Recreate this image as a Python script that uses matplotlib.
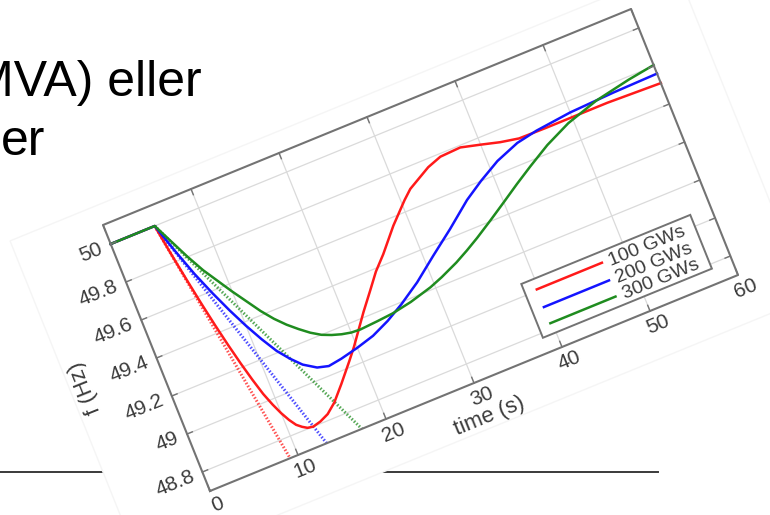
import matplotlib.pyplot as plt
import numpy as np
from matplotlib.transforms import Affine2D
from matplotlib.patches import Polygon

# frequency response after the loss (time in s, f in Hz)
t_red = [0, 5, 5.5, 6, 6.5, 7, 7.5, 8, 8.5, 9, 9.5, 10, 10.5, 11, 11.5, 12, 12.6,
         13.5, 14.5, 15.6, 16.3, 17, 18.7, 19.7, 20.7, 22, 23.5, 24.8, 26.2, 28.3,
         30.4, 31.4, 32.4, 34, 35.6, 37.9, 40, 42, 44, 47, 50, 54, 60]
f_red = [50, 50, 49.843, 49.70, 49.565, 49.44, 49.325, 49.22, 49.125, 49.04, 48.975,
         48.92, 48.875, 48.84, 48.82, 48.805, 48.80, 48.81, 48.83, 48.87, 48.905,
         48.94, 49.03, 49.085, 49.146, 49.225, 49.31, 49.385, 49.45, 49.56, 49.655,
         49.695, 49.72, 49.76, 49.785, 49.79, 49.765, 49.74, 49.722, 49.72, 49.72,
         49.72, 49.71]

t_blue = [0, 5, 6, 7, 8, 9, 10, 11, 12, 13, 14, 15.3, 16.5, 18, 20, 22, 24, 26,
          28.4, 31, 33.7, 36.5, 38.6, 41, 43.65, 46, 50, 55, 60]
f_blue = [50, 50, 49.85, 49.71, 49.59, 49.48, 49.38, 49.29, 49.21, 49.15, 49.10,
          49.06, 49.045, 49.055, 49.075, 49.10, 49.14, 49.19, 49.26, 49.35, 49.44,
          49.54, 49.60, 49.66, 49.705, 49.725, 49.745, 49.755, 49.76]

t_green = [0, 5, 6, 7, 8, 9, 10, 11, 12, 13, 14, 15, 16, 17, 18, 19, 20, 21, 22,
           23, 24.8, 27, 29.5, 31, 33, 34.5, 36, 38, 40, 42, 44, 46.5, 49.4, 53,
           57, 60]
f_green = [50, 50, 49.90, 49.80, 49.71, 49.635, 49.56, 49.49, 49.42, 49.36, 49.31,
           49.268, 49.23, 49.20, 49.18, 49.165, 49.155, 49.152, 49.155, 49.158,
           49.165, 49.183, 49.213, 49.238, 49.277, 49.312, 49.35, 49.405, 49.462,
           49.52, 49.575, 49.64, 49.70, 49.75, 49.785, 49.805]

# initial rate of change lines (dotted)
t_rocof_red = [5, 9.1]
f_rocof_red = [50, 48.7]
t_rocof_blue = [5, 13.26]
f_rocof_blue = [50, 48.7]
t_rocof_green = [5, 17.26]
f_rocof_green = [50, 48.7]

tick_t = [0, 10, 20, 30, 40, 50, 60]
tick_f = [48.8, 49, 49.2, 49.4, 49.6, 49.8, 50]
tick_f_labels = ['48.8', '49', '49.2', '49.4', '49.6', '49.8', '50']
legend_labels = ['100 GWs', '200 GWs', '300 GWs']

t_min, t_max = 0, 60
f_min, f_max = 48.7, 50.1

red, blue, green = '#ff1a1a', '#1414ff', '#1f8c1f'
axis_col = '#737373'
grid_col = '#dadada'
text_col = '#3c3c3c'
font = 'Liberation Sans'

fig = plt.figure(figsize=(7.7, 5.15), dpi=100)
ax = fig.add_axes([0, 0, 1, 1])
ax.set_xlim(0, 770)
ax.set_ylim(515, 0)
ax.axis('off')

# slide text behind the picture
ax.text(-28, 96, 'MVA) eller', fontsize=36, family=font, color='black')
ax.text(1, 155, 'er', fontsize=36, family=font, color='black')
ax.plot([0, 103], [472, 472], color='#3a3a3a', lw=1.4, zorder=1)
ax.plot([383, 658], [472, 472], color='#3a3a3a', lw=1.4, zorder=1)

# the chart is pasted tilted on the slide: (t, f) -> slide pixels
sx, sy = 8.8, -3.6       # pixels per second
hx, hy = -76.4, -190.0   # pixels per Hz
x0, y0 = 210, 491        # pixel of (0 s, 48.7 Hz)
tilt = Affine2D(np.array([[sx, hx, x0 - hx * f_min],
                          [sy, hy, y0 - hy * f_min],
                          [0, 0, 1]]))
chart = tilt + ax.transData
ang = np.degrees(np.arctan2(-sy, sx))
ang_y = np.degrees(np.arctan2(-hy, hx))

# picture background
img = Polygon([(-9.7, 48.466), (66, 48.466), (66, 50.2), (-9.7, 50.2)],
              closed=True, transform=chart, fc='white', ec='#f5f5f5', lw=1, zorder=2)
ax.add_patch(img)

# grid
for t in tick_t[1:-1]:
    ax.plot([t, t], [f_min, f_max], transform=chart, color=grid_col, lw=0.9, zorder=3)
for f in tick_f:
    ax.plot([t_min, t_max], [f, f], transform=chart, color=grid_col, lw=0.9, zorder=3)

# frame and ticks
ax.plot([t_min, t_max, t_max, t_min, t_min], [f_min, f_min, f_max, f_max, f_min],
        transform=chart, color=axis_col, lw=1.5, zorder=6)
for t in tick_t:
    ax.plot([t, t], [f_min, f_min + 0.03], transform=chart, color=axis_col, lw=1, zorder=6)
    ax.plot([t, t], [f_max, f_max - 0.03], transform=chart, color=axis_col, lw=1, zorder=6)
for f in tick_f:
    ax.plot([t_min, t_min + 0.6], [f, f], transform=chart, color=axis_col, lw=1, zorder=6)
    ax.plot([t_max, t_max - 0.6], [f, f], transform=chart, color=axis_col, lw=1, zorder=6)

for t in tick_t:
    ax.text(t + 0.2, f_min - 0.075, str(t), transform=chart, rotation=ang,
            rotation_mode='anchor', ha='center', va='center', fontsize=15,
            family=font, color=text_col, zorder=7)
for f, lab in zip(tick_f, tick_f_labels):
    ax.text(t_min - 1.0, f, lab, transform=chart, rotation=ang,
            rotation_mode='anchor', ha='right', va='center', fontsize=15,
            family=font, color=text_col, zorder=7)
ax.text(30.2, 48.52, 'time (s)', transform=chart, rotation=ang, rotation_mode='anchor',
        ha='center', va='center', fontsize=16, family=font, color=text_col, zorder=7)
ax.text(-8.1, 49.40, 'f (Hz)', transform=chart, rotation=ang_y, rotation_mode='anchor',
        ha='center', va='center', fontsize=16, family=font, color=text_col, zorder=7)

# curves
dots = (0, (0.5, 0.6))
ax.plot(t_rocof_red, f_rocof_red, transform=chart, color=red, lw=2.2, ls=dots, alpha=0.75, zorder=4)
ax.plot(t_rocof_blue, f_rocof_blue, transform=chart, color=blue, lw=2.2, ls=dots, alpha=0.75, zorder=4)
ax.plot(t_rocof_green, f_rocof_green, transform=chart, color=green, lw=2.2, ls=dots, alpha=0.75, zorder=4)
ax.plot(t_red, f_red, transform=chart, color=red, lw=1.8, zorder=5)
ax.plot(t_blue, f_blue, transform=chart, color=blue, lw=1.8, zorder=5)
ax.plot(t_green, f_green, transform=chart, color=green, lw=1.8, zorder=5)

# legend
box = Polygon([(38.5, 48.777), (57.7, 48.777), (57.7, 49.06), (38.5, 49.06)], closed=True,
              transform=chart, fc='white', ec=axis_col, lw=1.4, zorder=7)
ax.add_patch(box)
rows = [49.007, 48.914, 48.829]
for f, col, lab in zip(rows, [red, blue, green], legend_labels):
    ax.plot([39.8, 47.2], [f, f], transform=chart, color=col, lw=1.8, zorder=8)
    ax.text(48.0, f - 0.008, lab, transform=chart, rotation=ang, rotation_mode='anchor',
            ha='left', va='center', fontsize=14, family=font, color=text_col, zorder=8)

fig.savefig('out.png', dpi=100)
